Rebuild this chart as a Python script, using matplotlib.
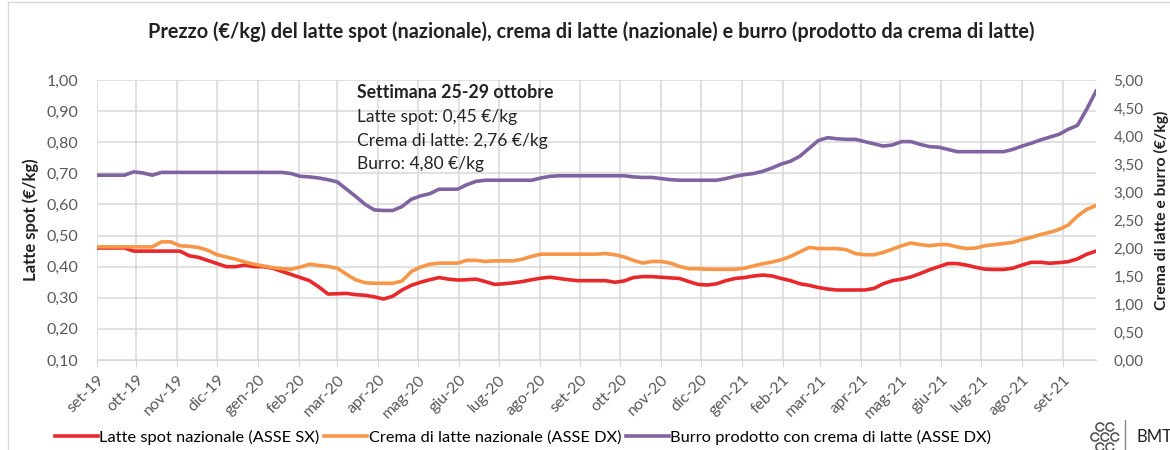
import matplotlib
matplotlib.use('Agg')
import matplotlib.pyplot as plt
import matplotlib.dates as mdates
from matplotlib.ticker import FuncFormatter, MultipleLocator
from matplotlib.patches import Arc
import numpy as np
import pandas as pd

plt.rcParams['font.family'] = ['Lato', 'DejaVu Sans']

# weekly quotations, sept 2019 -> oct 2021
dates = pd.date_range('2019-09-01', periods=109, freq='7D')

# latte spot nazionale (€/kg, left axis)
latte_spot = [
    0.46, 0.46, 0.46, 0.46, 0.45, 0.45, 0.45, 0.45, 0.45, 0.45,
    0.435, 0.43, 0.42, 0.41, 0.40, 0.40, 0.405, 0.40, 0.40, 0.395,
    0.385, 0.375, 0.365, 0.355, 0.335, 0.312, 0.313, 0.314, 0.31, 0.308,
    0.303, 0.296, 0.305, 0.325, 0.34, 0.35, 0.358, 0.365, 0.36, 0.357,
    0.358, 0.36, 0.352, 0.343, 0.345, 0.348, 0.352, 0.358, 0.363, 0.366,
    0.362, 0.358, 0.355, 0.355, 0.355, 0.355, 0.35, 0.354, 0.365, 0.368,
    0.368, 0.366, 0.364, 0.362, 0.352, 0.343, 0.341, 0.345, 0.355, 0.362,
    0.365, 0.37, 0.373, 0.37, 0.362, 0.355, 0.345, 0.34, 0.333, 0.328,
    0.325, 0.325, 0.325, 0.325, 0.33, 0.345, 0.355, 0.36, 0.367, 0.378,
    0.39, 0.40, 0.41, 0.41, 0.405, 0.398, 0.392, 0.391, 0.391, 0.395,
    0.405, 0.414, 0.414, 0.411, 0.413, 0.416, 0.425, 0.44, 0.45,
]

# crema di latte nazionale (€/kg, right axis)
crema = [
    2.02, 2.02, 2.02, 2.02, 2.02, 2.02, 2.02, 2.11, 2.11, 2.04,
    2.03, 2.01, 1.96, 1.88, 1.84, 1.80, 1.75, 1.71, 1.68, 1.65,
    1.63, 1.62, 1.66, 1.71, 1.69, 1.67, 1.64, 1.53, 1.43, 1.38,
    1.37, 1.37, 1.37, 1.41, 1.58, 1.66, 1.71, 1.73, 1.73, 1.73,
    1.78, 1.78, 1.76, 1.77, 1.77, 1.77, 1.80, 1.85, 1.89, 1.89,
    1.89, 1.89, 1.89, 1.89, 1.89, 1.90, 1.88, 1.84, 1.78, 1.73,
    1.76, 1.76, 1.73, 1.67, 1.63, 1.63, 1.62, 1.62, 1.62, 1.62,
    1.64, 1.68, 1.72, 1.75, 1.79, 1.85, 1.93, 2.01, 1.99, 1.99,
    1.99, 1.97, 1.90, 1.88, 1.88, 1.92, 1.98, 2.04, 2.09, 2.06,
    2.04, 2.06, 2.06, 2.02, 1.99, 2.00, 2.04, 2.06, 2.08, 2.10,
    2.15, 2.19, 2.24, 2.28, 2.33, 2.41, 2.57, 2.69, 2.76,
]

# burro prodotto con crema di latte (€/kg, right axis)
burro = [
    3.30, 3.30, 3.30, 3.30, 3.36, 3.34, 3.30, 3.35, 3.35, 3.35,
    3.35, 3.35, 3.35, 3.35, 3.35, 3.35, 3.35, 3.35, 3.35, 3.35,
    3.35, 3.33, 3.28, 3.27, 3.25, 3.22, 3.18, 3.05, 2.92, 2.78,
    2.68, 2.67, 2.67, 2.74, 2.87, 2.93, 2.97, 3.05, 3.05, 3.05,
    3.13, 3.19, 3.21, 3.21, 3.21, 3.21, 3.21, 3.21, 3.25, 3.28,
    3.29, 3.29, 3.29, 3.29, 3.29, 3.29, 3.29, 3.29, 3.27, 3.26,
    3.26, 3.24, 3.22, 3.21, 3.21, 3.21, 3.21, 3.21, 3.24, 3.28,
    3.31, 3.33, 3.37, 3.43, 3.50, 3.55, 3.64, 3.78, 3.92, 3.97,
    3.95, 3.94, 3.94, 3.90, 3.86, 3.82, 3.84, 3.90, 3.90, 3.85,
    3.81, 3.80, 3.76, 3.72, 3.72, 3.72, 3.72, 3.72, 3.72, 3.76,
    3.82, 3.87, 3.93, 3.98, 4.03, 4.12, 4.19, 4.48, 4.80,
]

mesi = ['gen', 'feb', 'mar', 'apr', 'mag', 'giu', 'lug', 'ago', 'set', 'ott', 'nov', 'dic']

RED = '#E8282B'
ORANGE = '#F79646'
PURPLE = '#8064A2'
GRID = '#D9D9D9'
TICK = '#595959'

W, H = 1170, 450
fig = plt.figure(figsize=(W / 100, H / 100), dpi=100)
ax = fig.add_axes([96.7 / W, 1 - 360 / H, (1096 - 96.7) / W, 280 / H])
ax2 = ax.twinx()

l1, = ax.plot(dates, latte_spot, color=RED, lw=2.6, label='Latte spot nazionale (ASSE SX)')
l2, = ax2.plot(dates, crema, color=ORANGE, lw=2.6, label='Crema di latte nazionale (ASSE DX)')
l3, = ax2.plot(dates, burro, color=PURPLE, lw=2.6, label='Burro prodotto con crema di latte (ASSE DX)')

ax.set_xlim(dates[0], dates[-1])
ax.set_ylim(0.10, 1.00)
ax2.set_ylim(0, 5)
ax.yaxis.set_major_locator(MultipleLocator(0.1))
ax2.yaxis.set_major_locator(MultipleLocator(0.5))
comma = FuncFormatter(lambda v, p: f'{v:.2f}'.replace('.', ','))
ax.yaxis.set_major_formatter(comma)
ax2.yaxis.set_major_formatter(comma)

ax.xaxis.set_major_locator(mdates.MonthLocator())
ax.xaxis.set_major_formatter(FuncFormatter(
    lambda v, p: f"{mesi[mdates.num2date(v).month - 1]}-{mdates.num2date(v).strftime('%y')}"))

ax.grid(True, color=GRID, lw=1.1)
ax.set_axisbelow(True)
for a in (ax, ax2):
    for s in a.spines.values():
        s.set_visible(False)
ax.spines['bottom'].set_visible(True)
ax.spines['bottom'].set_color(GRID)

ax.tick_params(axis='y', length=0, pad=13, labelsize=11.5, labelcolor=TICK)
ax2.tick_params(axis='y', length=0, pad=12.5, labelsize=11, labelcolor=TICK)
ax.tick_params(axis='x', length=5, color=GRID, pad=4, labelsize=11.5, labelcolor=TICK)
for lab in ax.get_xticklabels():
    lab.set_rotation(45)
    lab.set_ha('right')
    lab.set_rotation_mode('anchor')

# axis titles placed by hand so the right one stays inside the picture
fig.text(31 / W, 1 - 220 / H, 'Latte spot (€/kg)', rotation=90, ha='center', va='center',
         fontsize=12, fontweight='bold', color='#222222')
fig.text(1161 / W, 1 - 210 / H, 'Crema di latte e burro (€/kg)', rotation=90, ha='center', va='center',
         fontsize=11.3, fontweight='bold', color='#222222')

fig.text(591 / W, 1 - 32 / H,
         'Prezzo (€/kg) del latte spot (nazionale), crema di latte (nazionale) e burro (prodotto da crema di latte)',
         ha='center', va='center', fontsize=14.3, fontweight='bold', color='#222222')

# box of the latest week
fig.text(357 / W, 1 - 92 / H, 'Settimana 25-29 ottobre', fontsize=12.8, fontweight='bold', va='center', color='#222222')
fig.text(357 / W, 1 - 117 / H, 'Latte spot: 0,45 €/kg', fontsize=12.5, va='center', color='#222222')
fig.text(357 / W, 1 - 141 / H, 'Crema di latte: 2,76 €/kg', fontsize=12.5, va='center', color='#222222')
fig.text(357 / W, 1 - 164 / H, 'Burro: 4,80 €/kg', fontsize=12.5, va='center', color='#222222')

fig.legend(handles=[l1, l2, l3], loc='center left', bbox_to_anchor=(55 / W, 1 - 437 / H),
           ncol=3, frameon=False, fontsize=11.8, handlelength=2.6, handletextpad=0.1,
           columnspacing=0.3, borderpad=0, borderaxespad=0)

# chart frame (left and top edges)
fig.add_artist(plt.Line2D([8 / W, 8 / W], [0, 1 - 2 / H], color=GRID, lw=1))
fig.add_artist(plt.Line2D([8 / W, 1], [1 - 2 / H, 1 - 2 / H], color=GRID, lw=1))

# BMT logo
for cx, cy in [(1100, 427), (1110, 427), (1095, 437), (1105, 437), (1115, 437), (1100, 447), (1110, 447)]:
    fig.add_artist(Arc((cx / W, 1 - cy / H), 8 / W, 8 / H, theta1=40, theta2=320, color='#555555', lw=1.2))
fig.add_artist(plt.Line2D([1125 / W, 1125 / W], [0, 1 - 420 / H], color='#888888', lw=1))
fig.text(1136 / W, 1 - 437 / H, 'BMT', fontsize=12, va='center', color='#222222')

fig.savefig('out.png', dpi=100)
